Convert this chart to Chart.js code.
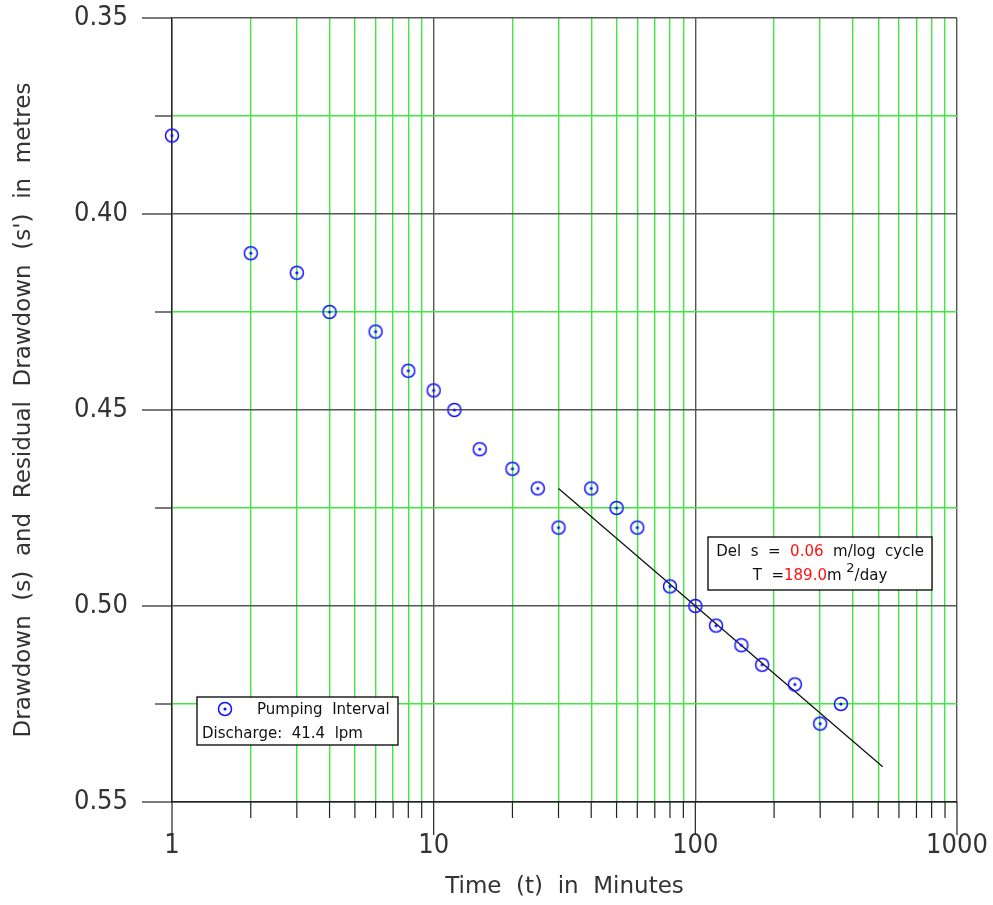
<!DOCTYPE html>
<html>
<head>
<meta charset="utf-8">
<script src="https://cdn.jsdelivr.net/npm/chart.js@4"></script>
<style>
  html, body { margin: 0; padding: 0; background: #fff; }
</style>
</head>
<body>
<canvas id="chart" width="993" height="905"></canvas>
<script>
// Recovery test data (time in minutes vs drawdown in metres)
const times = [1, 2, 3, 4, 6, 8, 10, 12, 15, 20, 25, 30, 40, 50, 60, 80, 100, 120, 150, 180, 240, 300, 360];
const drawdown = [0.38, 0.41, 0.415, 0.425, 0.43, 0.44, 0.445, 0.45, 0.46, 0.465, 0.47, 0.48, 0.47, 0.475, 0.48, 0.495, 0.50, 0.505, 0.51, 0.515, 0.52, 0.53, 0.525];

// Straight line fitted through the late points
const fitTimes = [30, 520];
const fitDrawdown = [0.47, 0.541];

// Axis ticks
const xTicks = [1,2,3,4,5,6,7,8,9,10,20,30,40,50,60,70,80,90,100,200,300,400,500,600,700,800,900,1000];
const xLabels = [1, 10, 100, 1000];
const yTicks = [0.35, 0.375, 0.40, 0.425, 0.45, 0.475, 0.50, 0.525, 0.55];
const yLabels = [0.35, 0.40, 0.45, 0.50, 0.55];

const FONT = "'DejaVu Sans', sans-serif";
const NARROW = "'Liberation Sans Narrow', 'DejaVu Sans Condensed', 'DejaVu Sans', sans-serif";
const GREEN = '#3ee83e';
const DARK = '#555555';
const TEXT = '#333333';

const isMajorX = v => xLabels.some(m => Math.abs(m - v) < 1e-9);
const isMajorY = v => yLabels.some(m => Math.abs(m - v) < 1e-9);

// Circle with a dot in the middle
function makeMarker() {
    const c = document.createElement('canvas');
    c.width = 18; c.height = 18;
    const g = c.getContext('2d');
    g.strokeStyle = '#1010ff';
    g.lineWidth = 1.5;
    g.beginPath(); g.arc(9, 9, 6.5, 0, Math.PI * 2); g.stroke();
    g.fillStyle = '#1010ff';
    g.beginPath(); g.arc(9, 9, 1.6, 0, Math.PI * 2); g.fill();
    return c;
}
const marker = makeMarker();

// tick marks outside the plot + boxes
const extrasPlugin = {
    id: 'extras',
    afterDraw(chart) {
        const ctx = chart.ctx;
        const xs = chart.scales.x, ys = chart.scales.y;
        const area = chart.chartArea;
        ctx.save();
        ctx.strokeStyle = '#222';
        ctx.lineWidth = 1.2;
        xTicks.forEach(v => {
            const px = xs.getPixelForValue(v);
            ctx.beginPath();
            ctx.moveTo(px, area.bottom);
            ctx.lineTo(px, area.bottom + (isMajorX(v) ? 33 : 16));
            ctx.stroke();
        });
        yTicks.forEach(v => {
            const py = ys.getPixelForValue(v);
            ctx.beginPath();
            ctx.moveTo(area.left, py);
            ctx.lineTo(area.left - (isMajorY(v) ? 30 : 17), py);
            ctx.stroke();
        });

        // legend box
        const lx = 197, ly = 697, lw = 201, lh = 48;
        ctx.fillStyle = '#fff';
        ctx.fillRect(lx, ly, lw, lh);
        ctx.strokeStyle = '#000';
        ctx.lineWidth = 1.3;
        ctx.strokeRect(lx, ly, lw, lh);
        ctx.drawImage(marker, 225 - 9, 709 - 9);
        ctx.fillStyle = '#111';
        ctx.font = '15px ' + FONT;
        ctx.textBaseline = 'middle';
        ctx.textAlign = 'left';
        ctx.fillText('Pumping  Interval', 257, 710);
        ctx.fillText('Discharge:  41.4  lpm', 202, 734);

        // result box
        const bx = 708, by = 537, bw = 224, bh = 53;
        ctx.fillStyle = '#fff';
        ctx.fillRect(bx, by, bw, bh);
        ctx.strokeRect(bx, by, bw, bh);
        const parts1 = [['Del  s  =  ', '#111'], ['0.06', '#ff1010'], ['  m/log  cycle', '#111']];
        drawParts(ctx, parts1, bx + bw / 2, 552);
        const parts2 = [['T  =', '#111'], ['189.0', '#ff1010'], ['m ', '#111'], ['2', '#111', true], ['/day', '#111']];
        drawParts(ctx, parts2, bx + bw / 2, 576);
        ctx.restore();
    }
};

function drawParts(ctx, parts, cx, cy) {
    const widths = parts.map(p => {
        ctx.font = (p[2] ? '13px ' : '15px ') + FONT;
        return ctx.measureText(p[0]).width;
    });
    let x = cx - widths.reduce((a, b) => a + b, 0) / 2;
    parts.forEach((p, i) => {
        ctx.font = (p[2] ? '13px ' : '15px ') + FONT;
        ctx.fillStyle = p[1];
        ctx.fillText(p[0], x, p[2] ? cy - 7 : cy);
        x += widths[i];
    });
}

new Chart(document.getElementById('chart'), {
    type: 'scatter',
    data: {
        datasets: [
            {
                label: 'Pumping Interval',
                data: times.map((t, i) => ({ x: t, y: drawdown[i] })),
                pointStyle: marker,
                pointRadius: 9,
                clip: false,
                order: 1
            },
            {
                label: 'Fit',
                type: 'line',
                data: fitTimes.map((t, i) => ({ x: t, y: fitDrawdown[i] })),
                borderColor: '#111',
                borderWidth: 1.3,
                pointRadius: 0,
                order: 2
            }
        ]
    },
    plugins: [extrasPlugin],
    options: {
        responsive: false,
        animation: false,
        devicePixelRatio: 1,
        layout: { padding: { top: 18, right: 36, left: 0, bottom: 0 } },
        plugins: { legend: { display: false }, tooltip: { enabled: false } },
        scales: {
            x: {
                type: 'logarithmic',
                min: 1,
                max: 1000,
                afterBuildTicks: s => { s.ticks = xTicks.map(v => ({ value: v })); },
                afterFit: s => { s.height = 103; s.paddingLeft = 0; s.paddingRight = 0; },
                ticks: {
                    autoSkip: false,
                    maxRotation: 0,
                    padding: 28,
                    color: TEXT,
                    font: { family: NARROW, size: 27 },
                    callback: v => isMajorX(v) ? String(v) : ''
                },
                grid: {
                    drawTicks: false,
                    color: c => isMajorX(c.tick.value) ? DARK : GREEN,
                    lineWidth: 1.4
                },
                border: { color: '#222', width: 1.4 },
                title: {
                    display: true,
                    text: 'Time  (t)  in  Minutes',
                    color: TEXT,
                    font: { family: FONT, size: 23 },
                    padding: { top: 0, bottom: 4 }
                }
            },
            y: {
                reverse: true,
                min: 0.35,
                max: 0.55,
                afterBuildTicks: s => { s.ticks = yTicks.map(v => ({ value: v })); },
                afterFit: s => { s.width = 172; s.paddingTop = 0; s.paddingBottom = 0; },
                ticks: {
                    autoSkip: false,
                    padding: 44,
                    color: TEXT,
                    font: { family: NARROW, size: 27 },
                    callback: v => isMajorY(v) ? v.toFixed(2) : ''
                },
                grid: {
                    drawTicks: false,
                    color: c => isMajorY(c.tick.value) ? DARK : GREEN,
                    lineWidth: 1.4
                },
                border: { color: '#222', width: 1.4 },
                title: {
                    display: true,
                    text: "Drawdown  (s)  and  Residual  Drawdown  (s')  in  metres",
                    color: TEXT,
                    font: { family: FONT, size: 23 },
                    padding: { top: 10, bottom: 0 }
                }
            }
        }
    }
});
</script>
</body>
</html>
